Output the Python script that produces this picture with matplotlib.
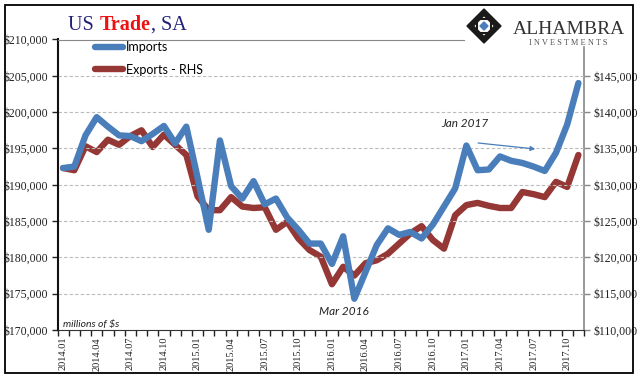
import numpy as np
import matplotlib
matplotlib.use('Agg')
import matplotlib.pyplot as plt
from matplotlib.patches import Polygon, Rectangle

# monthly data 2014.01 - 2017.11, millions of $
months = ['%d.%02d' % (y, m) for y in range(2014, 2018) for m in range(1, 13)][:47]
imports = [192300, 192500, 196800, 199300, 198000, 196800, 196700, 196000, 197000, 198100,
           195700, 198000, 191000, 183800, 196100, 189800, 188100, 190500, 187300, 188100,
           185500, 183800, 181900, 181900, 179100, 182900, 174300, 178000, 181700, 184000,
           183100, 183500, 182600, 184500, 187000, 189500, 195400, 192000, 192100, 193900,
           193300, 193000, 192500, 191900, 194400, 198300, 204000]
exports = [132300, 132000, 135300, 134500, 136200, 135500, 136700, 137500, 135200, 136900,
           135500, 134100, 128400, 126500, 126500, 128300, 127000, 126800, 126900, 123800,
           124900, 122600, 121000, 120100, 116300, 118700, 117500, 119200, 119600, 120500,
           121900, 123300, 124300, 122400, 121200, 125800, 127200, 127500, 127100, 126800,
           126800, 129000, 128700, 128300, 130400, 129700, 134100]
left_ticks = list(range(170000, 210001, 5000))
right_ticks = list(range(110000, 145001, 5000))

W, H = 641, 381
fig = plt.figure(figsize=(W / 100, H / 100), dpi=100)
fig.patch.set_facecolor('white')

def fx(px):
    return px / W

def fy(py):
    return 1 - py / H

ax = fig.add_axes([fx(57.5), fy(330), fx(584) - fx(57.5), fy(39.5) - fy(330)])
ax2 = ax.twinx()

x = np.arange(len(months))
blue = '#4A7EBB'
red = '#953735'
l1, = ax.plot(x, imports, color=blue, lw=4.6, solid_capstyle='round', solid_joinstyle='round', zorder=3)
l2, = ax2.plot(x, exports, color=red, lw=4.6, solid_capstyle='round', solid_joinstyle='round', zorder=3)
ax.set_zorder(2)
ax.patch.set_visible(False)
ax2.set_zorder(1)

ax.set_xlim(-0.5, len(months) - 0.5)
ax.set_ylim(170000, 210000)
ax2.set_ylim(110000, 150000)

serif = 'Liberation Serif'
ax.set_yticks(left_ticks)
ax.set_yticklabels(['$%s' % format(v, ',') for v in left_ticks], fontfamily=serif, fontsize=8.5, color='#222222')
ax2.set_yticks(right_ticks)
ax2.set_yticklabels(['$%s' % format(v, ',') for v in right_ticks], fontfamily=serif, fontsize=8.5, color='#222222')
ax.tick_params(axis='y', length=4, width=1, pad=3, color='#222222')
ax2.tick_params(axis='y', length=4, width=1, pad=3, color='#888888')

ax.set_xticks(x[::3])
ax.set_xticklabels(months[::3], rotation=90, fontfamily=serif, fontsize=7.5, color='#222222')
ax.set_xticks(np.arange(-0.5, len(months), 1), minor=True)
ax.tick_params(axis='x', which='major', length=0, pad=5)
ax.tick_params(axis='x', which='minor', length=4, width=1, color='#222222')

for v in left_ticks[1:-1]:
    ax.axhline(v, color='#BBBBBB', lw=0.8, ls=(0, (3, 2)), zorder=1)

for s in ['left', 'right', 'top', 'bottom']:
    ax2.spines[s].set_visible(False)
ax.spines['left'].set_color('#111111')
ax.spines['left'].set_linewidth(1.5)
ax.spines['bottom'].set_color('#333333')
ax.spines['top'].set_color('#888888')
ax.spines['top'].set_bounds(-0.5, 35.8)
ax.spines['right'].set_visible(False)
ax2.spines['right'].set_visible(True)
ax2.spines['right'].set_color('#888888')
ax2.spines['right'].set_linewidth(1.2)
ax2.spines['right'].set_bounds(110000, 149000)

leg = ax.legend([l1, l2], ['Imports', 'Exports - RHS'], loc='upper left',
                bbox_to_anchor=(fx(95), fy(41)), bbox_transform=fig.transFigure,
                frameon=False, borderpad=0, borderaxespad=0, handlelength=2.2,
                handletextpad=0.25, labelspacing=0.85,
                prop={'family': 'Lato', 'size': 9})

# annotations
ax.text(25.1, 172600, 'Mar 2016', ha='center', va='center', fontsize=8.5,
        fontfamily='Lato', fontstyle='italic', color='#222222')
ax.text(35.9, 198400, 'Jan 2017', ha='center', va='center', fontsize=8.5,
        fontfamily='Lato', fontstyle='italic', color='#222222')
ax.annotate('', xy=(42.4, 194880), xytext=(36.8, 195790),
            arrowprops=dict(arrowstyle='-|>', color=blue, lw=0.9, mutation_scale=7))
fig.text(fx(63), fy(327), 'millions of $s', ha='left', va='baseline', fontsize=7.5,
         fontfamily='Lato', fontstyle='italic', color='#222222')

# title in three colours
fig.canvas.draw()
r = fig.canvas.get_renderer()
xpos = fx(68)
for part, col, wt in [('US ', '#1F1F7A', 'normal'), ('Trade', '#EE1111', 'bold'), (', SA', '#1F1F7A', 'normal')]:
    t = fig.text(xpos, fy(30), part, fontsize=14.5, fontfamily=serif, color=col,
                 fontweight=wt, ha='left', va='baseline')
    bb = t.get_window_extent(renderer=r)
    xpos = (bb.x1 + 0.5) / W

# logo
cx, cy, s = 484, 26, 17
fig.patches.append(Polygon([(fx(cx - s), fy(cy)), (fx(cx), fy(cy - s)), (fx(cx + s), fy(cy)), (fx(cx), fy(cy + s))],
                           closed=True, transform=fig.transFigure, facecolor='#1A1A1A', edgecolor='#1A1A1A'))
s2 = 11
fig.patches.append(Polygon([(fx(cx - s2), fy(cy)), (fx(cx), fy(cy - s2)), (fx(cx + s2), fy(cy)), (fx(cx), fy(cy + s2))],
                           closed=True, transform=fig.transFigure, facecolor='white', edgecolor='#1A1A1A', lw=1.5))
s3 = 7
fig.patches.append(Polygon([(fx(cx - s3), fy(cy - s3)), (fx(cx + s3), fy(cy - s3)), (fx(cx + s3), fy(cy + s3)), (fx(cx - s3), fy(cy + s3))],
                           closed=True, transform=fig.transFigure, facecolor='none', edgecolor='#1A1A1A', lw=1.5))
s4 = 4
fig.patches.append(Polygon([(fx(cx - s4), fy(cy)), (fx(cx), fy(cy - s4)), (fx(cx + s4), fy(cy)), (fx(cx), fy(cy + s4))],
                           closed=True, transform=fig.transFigure, facecolor=blue, edgecolor=blue))
fig.text(fx(569), fy(34), 'ALHAMBRA', ha='center', va='baseline', fontsize=14,
         fontfamily=serif, color='#333333')
fig.text(fx(568), fy(45), 'I N V E S T M E N T S', ha='center', va='baseline', fontsize=6,
         fontfamily=serif, color='#555555')

# outer frame
fig.patches.append(Rectangle((fx(5), fy(373)), fx(633) - fx(5), fy(5) - fy(373),
                             transform=fig.transFigure, fill=False, edgecolor='black', lw=1.3))

fig.savefig('out.png', dpi=100)
